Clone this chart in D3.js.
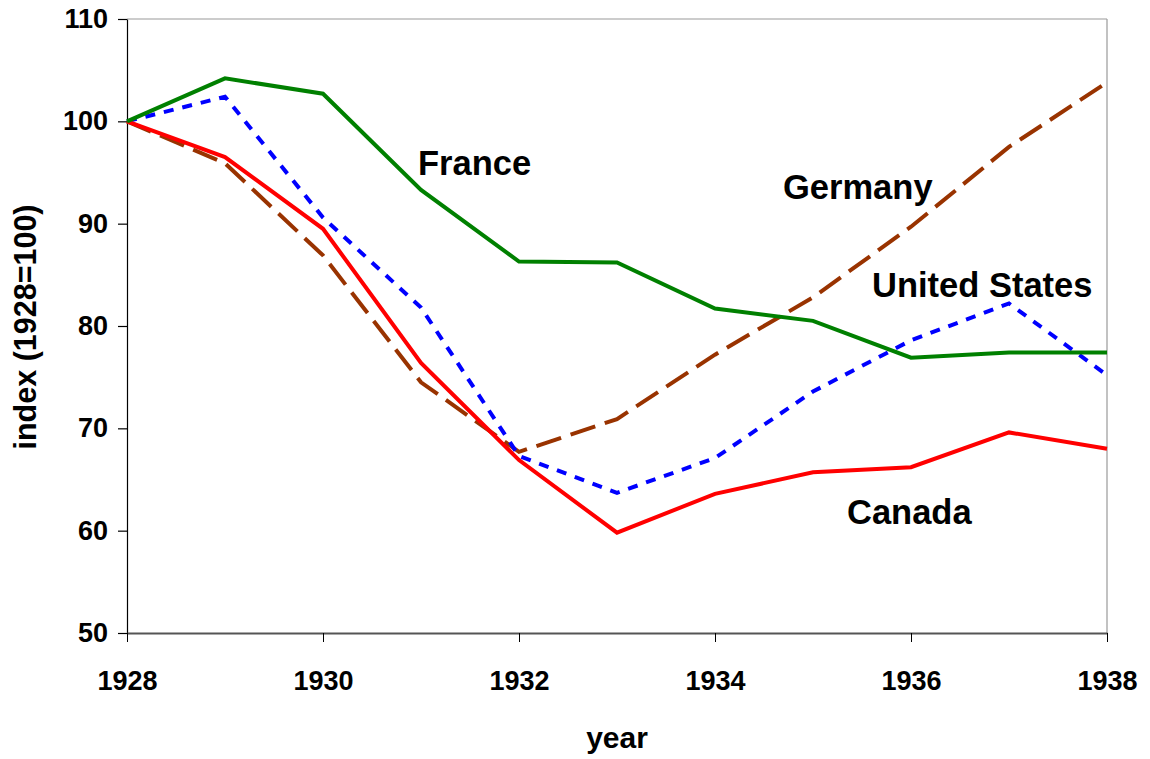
<!DOCTYPE html>
<html><head><meta charset="utf-8">
<script src="https://cdn.jsdelivr.net/npm/d3@7"></script>
<style>body{margin:0;background:#fff}svg{display:block;font-family:"Liberation Sans",Arial,sans-serif;font-weight:bold}</style>
</head><body><svg id="c" width="1150" height="759"></svg>
<script>
const years = [1928,1929,1930,1931,1932,1933,1934,1935,1936,1937,1938];
const france  = [100,104.2,102.7,93.3,86.3,86.2,81.7,80.5,76.9,77.4,77.4];
const canada  = [100,96.5,89.5,76.4,66.9,59.8,63.6,65.7,66.2,69.6,68.0];
const usa     = [100,102.4,90.6,81.8,67.3,63.7,67.1,73.6,78.6,82.2,75.2];
const germany = [100,95.9,86.9,74.5,67.7,70.9,77.2,82.8,89.7,97.5,103.8];
const xTicks = [1928,1930,1932,1934,1936,1938];
const yTicks = [50,60,70,80,90,100,110];

const svg = d3.select("#c");
const L=127,R=1107,T=19,B=633;
const x = d3.scaleLinear().domain([1928,1938]).range([L,R]);
const y = d3.scaleLinear().domain([50,110]).range([B,T]);

svg.append("line").attr("x1",L).attr("x2",R).attr("y1",T).attr("y2",T).attr("stroke","#999").attr("stroke-width",1.2);
svg.append("line").attr("x1",R).attr("x2",R).attr("y1",T).attr("y2",B).attr("stroke","#999").attr("stroke-width",1.2);

const yAx = svg.append("g").attr("transform",`translate(${L},0)`)
  .call(d3.axisLeft(y).tickValues(yTicks).tickSize(9).tickPadding(10).tickSizeOuter(0));
yAx.select(".domain").attr("stroke","#000").attr("stroke-width",1.2);
yAx.selectAll(".tick line").attr("stroke","#000").attr("stroke-width",1.2);
yAx.selectAll("text").attr("font-size",27).attr("font-weight","bold").attr("fill","#000").attr("font-family","Liberation Sans, Arial, sans-serif");

const xAx = svg.append("g").attr("transform",`translate(0,${B})`)
  .call(d3.axisBottom(x).tickValues(xTicks).tickFormat(d3.format("d")).tickSize(9).tickPadding(29).tickSizeOuter(0));
xAx.select(".domain").attr("stroke","#555").attr("stroke-width",2);
xAx.selectAll(".tick line").attr("stroke","#000").attr("stroke-width",1);
xAx.selectAll("text").attr("font-size",27).attr("font-weight","bold").attr("fill","#000").attr("font-family","Liberation Sans, Arial, sans-serif");

const line = d3.line().x((d,i)=>x(years[i])).y(d=>y(d));
const series = [
  {v:germany,c:"#993300",dash:"26,10"},
  {v:usa,c:"#0000ff",dash:"10,9"},
  {v:canada,c:"#ff0000",dash:null},
  {v:france,c:"#008000",dash:null}
];
series.forEach(s=>{
  svg.append("path").attr("d",line(s.v)).attr("fill","none").attr("stroke",s.c)
    .attr("stroke-width",4).attr("stroke-dasharray",s.dash).attr("stroke-linejoin","miter");
});

const labels = [
  {t:"France",x:418,y:175},
  {t:"Germany",x:783,y:199},
  {t:"United States",x:872,y:297},
  {t:"Canada",x:847,y:524}
];
labels.forEach(l=>svg.append("text").attr("x",l.x).attr("y",l.y).attr("font-size",34.5).attr("fill","#000").text(l.t));

svg.append("text").attr("x",617).attr("y",748).attr("text-anchor","middle").attr("font-size",30).text("year");
svg.append("text").attr("transform","translate(36,327) rotate(-90)").attr("text-anchor","middle").attr("font-size",30.5).text("index (1928=100)");
</script></body></html>
